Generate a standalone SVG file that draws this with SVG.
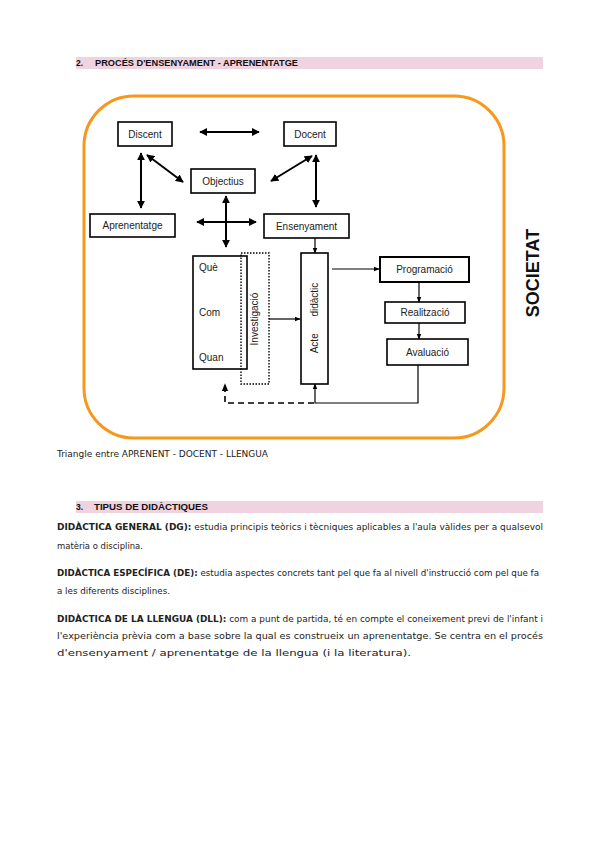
<svg xmlns="http://www.w3.org/2000/svg" width="600" height="848" viewBox="0 0 600 848">
<style>
.bx{fill:#fff;stroke:#000;stroke-width:1.6}
.lb{font-family:"Liberation Sans",Arial,sans-serif;font-size:10px;fill:#222}
.hd{font-family:"Liberation Sans",Arial,sans-serif;font-size:8.5px;font-weight:bold;fill:#111}
.tx{font-family:"DejaVu Sans",Arial,sans-serif;font-size:8px;fill:#222}
.b{font-weight:bold}
.ar{stroke:#000;stroke-width:2;fill:none}
.ar1{stroke:#000;stroke-width:1.2;fill:none}
</style>
<defs>
<marker id="ah" viewBox="0 0 10 10" refX="9" refY="5" markerWidth="4" markerHeight="4" orient="auto-start-reverse" markerUnits="strokeWidth"><path d="M0,0 L10,5 L0,10 z" fill="#000"/></marker>
<marker id="ahs" viewBox="0 0 10 10" refX="9" refY="5" markerWidth="5" markerHeight="5" orient="auto-start-reverse" markerUnits="strokeWidth"><path d="M0,1 L10,5 L0,9 z" fill="#000"/></marker>
</defs>
<rect width="600" height="848" fill="#fff"/>

<rect x="76" y="57" width="467" height="12" fill="#EFD3DE"/>
<text class="hd" x="76" y="66">2.</text>
<text class="hd" x="95" y="66" textLength="203" lengthAdjust="spacingAndGlyphs">PROCÉS D'ENSENYAMENT - APRENENTATGE</text>

<rect x="84" y="96" width="420" height="342" rx="50" ry="50" fill="none" stroke="#F7981D" stroke-width="3"/>

<g id="connectors">
<line class="ar" x1="200" y1="132" x2="259" y2="132" marker-start="url(#ah)" marker-end="url(#ah)"/>
<line class="ar" x1="141" y1="153" x2="141" y2="208" marker-start="url(#ah)" marker-end="url(#ah)"/>
<line class="ar" x1="147" y1="155" x2="183" y2="182" marker-start="url(#ah)" marker-end="url(#ah)"/>
<line class="ar" x1="312" y1="156" x2="271" y2="181" marker-start="url(#ah)" marker-end="url(#ah)"/>
<line class="ar" x1="316" y1="155" x2="316" y2="207" marker-start="url(#ah)" marker-end="url(#ah)"/>
<line class="ar" x1="197" y1="222" x2="256" y2="222" marker-start="url(#ah)" marker-end="url(#ah)"/>
<line class="ar" x1="226" y1="196" x2="226" y2="247" marker-start="url(#ah)" marker-end="url(#ah)"/>
<line class="ar1" x1="315" y1="238" x2="315" y2="253" marker-end="url(#ahs)"/>
<line class="ar1" x1="219" y1="277" x2="219" y2="307" marker-start="url(#ahs)" marker-end="url(#ahs)"/>
<line class="ar1" x1="219" y1="322" x2="219" y2="351" marker-start="url(#ahs)" marker-end="url(#ahs)"/>
<line class="ar1" x1="269" y1="319" x2="300" y2="319" marker-end="url(#ahs)"/>
<line class="ar1" x1="332" y1="269" x2="379" y2="269" marker-end="url(#ahs)"/>
<line class="ar1" x1="419" y1="282" x2="419" y2="302" marker-end="url(#ahs)"/>
<line class="ar1" x1="419" y1="323" x2="419" y2="339" marker-end="url(#ahs)"/>
<polyline class="ar1" points="418,365 418,403 315,403 315,384" marker-end="url(#ahs)"/>
<polyline points="314,403 225,403 225,384" fill="none" stroke="#000" stroke-width="1.6" stroke-dasharray="6,4" marker-end="url(#ahs)"/>
</g>

<g id="discent"><rect class="bx" x="118" y="122" width="54" height="24"/><text class="lb" x="145" y="137.5" text-anchor="middle">Discent</text></g>
<g id="docent"><rect class="bx" x="284" y="122" width="52" height="24"/><text class="lb" x="310" y="137.5" text-anchor="middle">Docent</text></g>
<g id="objectius"><rect class="bx" x="191" y="169" width="64" height="24"/><text class="lb" x="223" y="184.5" text-anchor="middle">Objectius</text></g>
<g id="aprenentatge"><rect class="bx" x="90" y="214" width="85" height="23"/><text class="lb" x="132.5" y="229" text-anchor="middle">Aprenentatge</text></g>
<g id="ensenyament"><rect class="bx" x="264" y="214" width="85" height="24"/><text class="lb" x="306.5" y="229.5" text-anchor="middle">Ensenyament</text></g>

<g id="que-com-quan"><rect class="bx" x="193" y="256" width="54" height="113"/>
<text class="lb" x="199" y="271">Què</text>
<text class="lb" x="199" y="316">Com</text>
<text class="lb" x="199" y="361">Quan</text></g>
<g id="investigacio"><rect x="241" y="253" width="28" height="131" fill="none" stroke="#000" stroke-width="1.4" stroke-dasharray="1.5,1.5"/>
<text class="lb" transform="translate(258,319) rotate(-90)" text-anchor="middle">Investigació</text></g>
<g id="acte"><rect class="bx" x="301" y="253" width="27" height="131"/>
<text class="lb" transform="translate(318,318) rotate(-90)" text-anchor="middle" xml:space="preserve">Acte      didàctic</text></g>

<g id="programacio"><rect x="380" y="257" width="89" height="25" fill="#fff" stroke="#000" stroke-width="2"/><text class="lb" x="424.5" y="273" text-anchor="middle">Programació</text></g>
<g id="realitzacio"><rect class="bx" x="385" y="302" width="80" height="21"/><text class="lb" x="425" y="316" text-anchor="middle">Realització</text></g>
<g id="avaluacio"><rect class="bx" x="387" y="339" width="81" height="26"/><text class="lb" x="427.5" y="356" text-anchor="middle">Avaluació</text></g>

<text transform="translate(539,273) rotate(-90)" text-anchor="middle" font-family="'Liberation Sans',Arial,sans-serif" font-size="18" font-weight="bold" fill="#111">SOCIETAT</text>

<text class="tx" x="57" y="457" textLength="211" lengthAdjust="spacingAndGlyphs">Triangle entre APRENENT - DOCENT - LLENGUA</text>

<rect x="76" y="501" width="467" height="12" fill="#EFD3DE"/>
<text class="hd" x="76" y="510">3.</text>
<text class="hd" x="94" y="510" textLength="114" lengthAdjust="spacingAndGlyphs">TIPUS DE DIDÀCTIQUES</text>

<text class="tx" x="57" y="530" textLength="486" lengthAdjust="spacingAndGlyphs"><tspan class="b">DIDÀCTICA GENERAL (DG):</tspan> estudia principis teòrics i tècniques aplicables a l'aula vàlides per a qualsevol</text>
<text class="tx" x="57" y="549" textLength="86" lengthAdjust="spacingAndGlyphs">matèria o disciplina.</text>
<text class="tx" x="57" y="576" textLength="482" lengthAdjust="spacingAndGlyphs"><tspan class="b">DIDÀCTICA ESPECÍFICA (DE):</tspan> estudia aspectes concrets tant pel que fa al nivell d'instrucció com pel que fa</text>
<text class="tx" x="57" y="594" textLength="113" lengthAdjust="spacingAndGlyphs">a les diferents disciplines.</text>
<text class="tx" x="57" y="622" textLength="486" lengthAdjust="spacingAndGlyphs"><tspan class="b">DIDÀCTICA DE LA LLENGUA (DLL):</tspan> com a punt de partida, té en compte el coneixement previ de l'infant i</text>
<text class="tx" x="57" y="639" textLength="486" lengthAdjust="spacingAndGlyphs">l'experiència prèvia com a base sobre la qual es construeix un aprenentatge. Se centra en el procés</text>
<text class="tx" x="57" y="656" textLength="354" lengthAdjust="spacingAndGlyphs">d'ensenyament / aprenentatge de la llengua (i la literatura).</text>
</svg>
